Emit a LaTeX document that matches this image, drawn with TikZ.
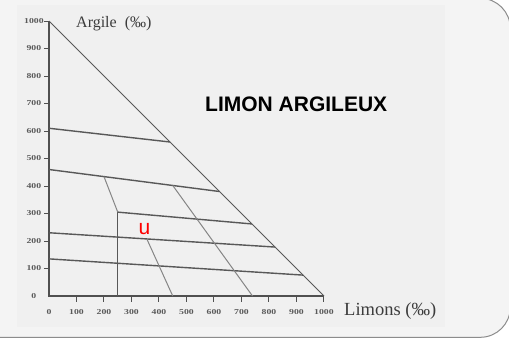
\documentclass[tikz,border=0pt]{standalone}
\usepackage{fontspec}
\setmainfont{Liberation Serif}
\newfontfamily\sansbold{Liberation Sans}
\usetikzlibrary{calc}
\definecolor{panel}{HTML}{F4F4F4}
\definecolor{inner}{HTML}{F0F0F0}
\definecolor{rim}{HTML}{8C8C8C}
\definecolor{axisgray}{HTML}{505050}
\definecolor{linegray}{HTML}{585858}
\definecolor{diaggray}{HTML}{858585}
\definecolor{textgray}{HTML}{3C3C3C}
\definecolor{tickgray}{HTML}{5A5A5A}
\tikzset{
  axisline/.style={draw=axisgray, line width=1.5pt},
  classline/.style={draw=linegray, line width=1.4pt},
  hypline/.style={draw=linegray, line width=0.9pt},
  diagline/.style={draw=diaggray, line width=1pt},
  ticklab/.style={inner sep=0pt, font=\bfseries\fontsize{7.5}{8}\selectfont, text=tickgray},
  axislab/.style={inner sep=0pt, anchor=base west, text=textgray},
}
\newcommand{\wlab}[1]{\scalebox{1.3}[1]{#1}}
\begin{document}
\begin{tikzpicture}[x=1pt,y=-1pt]
\useasboundingbox (0,0) rectangle (509,338);
\clip (0,0) rectangle (509,338);
\fill[white] (0,0) rectangle (509,338);
\draw[fill=panel, draw=rim, line width=1pt, rounded corners=30pt] (-80,-1.7) rectangle (510.3,337.3);
\fill[inner] (17,5) rectangle (445,327);

\begin{scope}[shift={(49pt,-296pt)}, x=0.275pt, y=0.275pt]
  % axes
  \coordinate (O) at (0,0);
  \coordinate (T) at (0,1000);
  \coordinate (R) at (1000,0);
  \draw[axisline] (T) -- (O) -- (R);
  \draw[hypline] (T) -- (R);
  % ticks and labels
  \foreach \v in {100,200,...,1000} {
    \draw[draw=axisgray, line width=1pt] (0,\v) -- ++(-18,0);
    \draw[draw=axisgray, line width=1pt] (\v,0) -- ++(0,-22);
  }
  \foreach \v in {0,100,...,1000} {
    \node[ticklab] (ly\v) at (-55,\v) {\wlab{\v}};
    \node[ticklab] (lx\v) at (\v,-60) {\wlab{\v}};
  }
  % class lines
  \coordinate (a1) at (0,610);   \coordinate (a2) at (440,560);
  \coordinate (b1) at (0,460);   \coordinate (b2) at (620,380);
  \coordinate (c1) at (250,305); \coordinate (c2) at (738,262);
  \coordinate (c0) at (250,0);
  \coordinate (d1) at (0,230);   \coordinate (d2) at (822,178);
  \coordinate (e1) at (0,135);   \coordinate (e2) at (924,76);
  \draw[classline] (a1) -- (a2);
  \draw[classline] (b1) -- (b2);
  \draw[classline] (c1) -- (c2);
  \draw[classline] (c1) -- (c0);
  \draw[classline] (d1) -- (d2);
  \draw[classline] (e1) -- (e2);
  % diagonals
  \coordinate (f1) at (200,434);
  \coordinate (g1) at (356,207); \coordinate (g2) at (450,0);
  \coordinate (h1) at (450,402); \coordinate (h2) at (740,0);
  \draw[diagline] (f1) -- (c1);
  \draw[diagline] (g1) -- (g2);
  \draw[diagline] (h1) -- (h2);
\end{scope}

\node[axislab, font=\fontsize{16}{18}\selectfont] (argile) at (76,27) {Argile\ \ (‰)};
\node[axislab, font=\fontsize{18.5}{20}\selectfont] (limons) at (344,315) {Limons (‰)};
\node[inner sep=0pt, anchor=base west, font=\sansbold\bfseries\fontsize{21}{24}\selectfont] (title) at (205,111) {LIMON ARGILEUX};
\node[inner sep=0pt, anchor=base west, text=red, font=\sansbold\fontsize{21}{24}\selectfont] (u) at (138.5,234) {u};
\end{tikzpicture}
\end{document}
